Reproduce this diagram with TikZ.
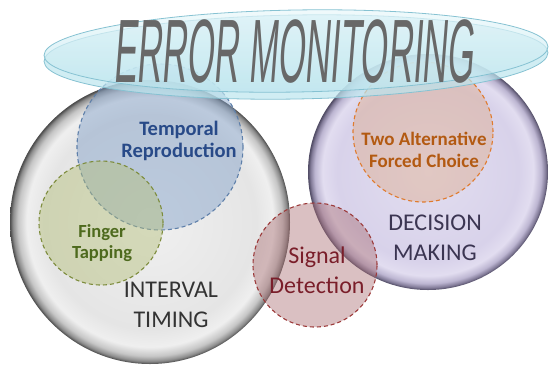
\documentclass[tikz,border=0pt]{standalone}
\usepackage{fontspec}
\setmainfont{Carlito}
\newfontfamily\titlefont{Liberation Sans}
\usetikzlibrary{shapes.geometric,positioning}

\definecolor{gb0}{HTML}{F0F0F0}
\definecolor{gb1}{HTML}{E5E5E5}
\definecolor{gb2}{HTML}{EFEFEF}
\definecolor{gb3}{HTML}{C6C6C6}
\definecolor{gb4}{HTML}{8C8C8C}
\definecolor{gb5}{HTML}{4A4A4A}
\definecolor{pb0}{HTML}{E2DEF0}
\definecolor{pb1}{HTML}{D8D2EA}
\definecolor{pb2}{HTML}{E2DDF0}
\definecolor{pb3}{HTML}{BDB6D2}
\definecolor{pb4}{HTML}{827B98}
\definecolor{pb5}{HTML}{4E4962}
\definecolor{platetop}{HTML}{EAF8FB}
\definecolor{platebot}{HTML}{BCE5EE}
\definecolor{plateedge}{HTML}{86C2D2}
\definecolor{titlegrey}{HTML}{686868}
\definecolor{blueline}{HTML}{5F80AA}
\definecolor{bluefill}{HTML}{7E9EC8}
\definecolor{bluetext}{HTML}{284A88}
\definecolor{greenline}{HTML}{7D8C3C}
\definecolor{greenfill}{HTML}{B4BF78}
\definecolor{greentext}{HTML}{4E6A1E}
\definecolor{redline}{HTML}{9C3A3A}
\definecolor{redfill}{HTML}{A86A6E}
\definecolor{redtext}{HTML}{7A1E2A}
\definecolor{orangeline}{HTML}{E07B2E}
\definecolor{orangefill}{HTML}{E0A070}
\definecolor{orangetext}{HTML}{B35A12}
\definecolor{greytext}{HTML}{333333}
\definecolor{purpletext}{HTML}{3B3552}

\pgfdeclareradialshading{greyball}{\pgfpointorigin}{color(0bp)=(gb0); color(19bp)=(gb1); color(22bp)=(gb2); color(23.6bp)=(gb3); color(24.5bp)=(gb4); color(25bp)=(gb5); color(50bp)=(gb5)}
\pgfdeclareradialshading{purpleball}{\pgfpointorigin}{color(0bp)=(pb0); color(19bp)=(pb1); color(22bp)=(pb2); color(23.6bp)=(pb3); color(24.5bp)=(pb4); color(25bp)=(pb5); color(50bp)=(pb5)}

\begin{document}
\begin{tikzpicture}[x=1pt, y=-1pt,
    bubble/.style={ellipse, inner sep=0pt},
    topic/.style={circle, inner sep=0pt, line width=1.1pt, dash pattern=on 4pt off 3pt, fill opacity=0.45, draw opacity=1},
    boldlabel/.style={align=center, inner sep=0pt, font=\bfseries\fontsize{19}{22.5}\selectfont},
    biglabel/.style={align=center, inner sep=0pt, font=\fontsize{24}{30}\selectfont},
    plate/.style={ellipse, inner sep=0pt, rotate=1}]
  \useasboundingbox (0,0) rectangle (549,365);

  % the two spheres
  \node[bubble, shading=greyball, minimum width=280, minimum height=284] (timing) at (150,222) {};
  \node[bubble, shading=purpleball, minimum width=240, minimum height=236] (decision) at (428,172) {};

  % dashed sub-areas
  \node[topic, draw=blueline, fill=bluefill, minimum size=166] (temporal) at (160,147) {};
  \node[topic, draw=greenline, fill=greenfill, minimum size=124] (finger) at (101,223) {};
  \node[topic, draw=redline, fill=redfill, fill opacity=0.42, minimum size=124] (signal) at (315,265) {};
  \node[topic, draw=orangeline, fill=orangefill, fill opacity=0.35, minimum size=140] (forced) at (423,132) {};

  \node[boldlabel, text=bluetext, font=\bfseries\fontsize{20.5}{22.5}\selectfont] (temporaltxt) at (179,141) {Temporal\\Reproduction};
  \node[boldlabel, text=greentext, font=\bfseries\fontsize{18.5}{21.5}\selectfont] (fingertxt) at (102,243) {Finger\\Tapping};
  \node[boldlabel, text=orangetext] (forcedtxt) at (424,150) {Two Alternative\\Forced Choice};
  \node[biglabel, text=redtext] (signaltxt) at (317,270) {Signal\\Detection};
  \node[biglabel, text=greytext] (timingtxt) at (171,305) {INTERVAL\\TIMING};
  \node[biglabel, text=purpletext] (decisiontxt) at (435,238) {DECISION\\MAKING};

  % glass plate on top
  \node[plate, fill=platebot, draw=plateedge, line width=0.8pt, fill opacity=0.7, minimum width=504, minimum height=84] (platerim) at (296,57) {};
  \node[plate, top color=platetop, bottom color=platebot, draw=plateedge, line width=0.8pt, fill opacity=0.7, minimum width=504, minimum height=82] (plate) at (296,51) {};
  \node[inner sep=0pt, text=titlegrey, font=\titlefont\fontsize{40}{40}\selectfont, xscale=0.87, yscale=2.25, xslant=0.2] (title) at (296,52) {ERROR MONITORING};
\end{tikzpicture}
\end{document}
